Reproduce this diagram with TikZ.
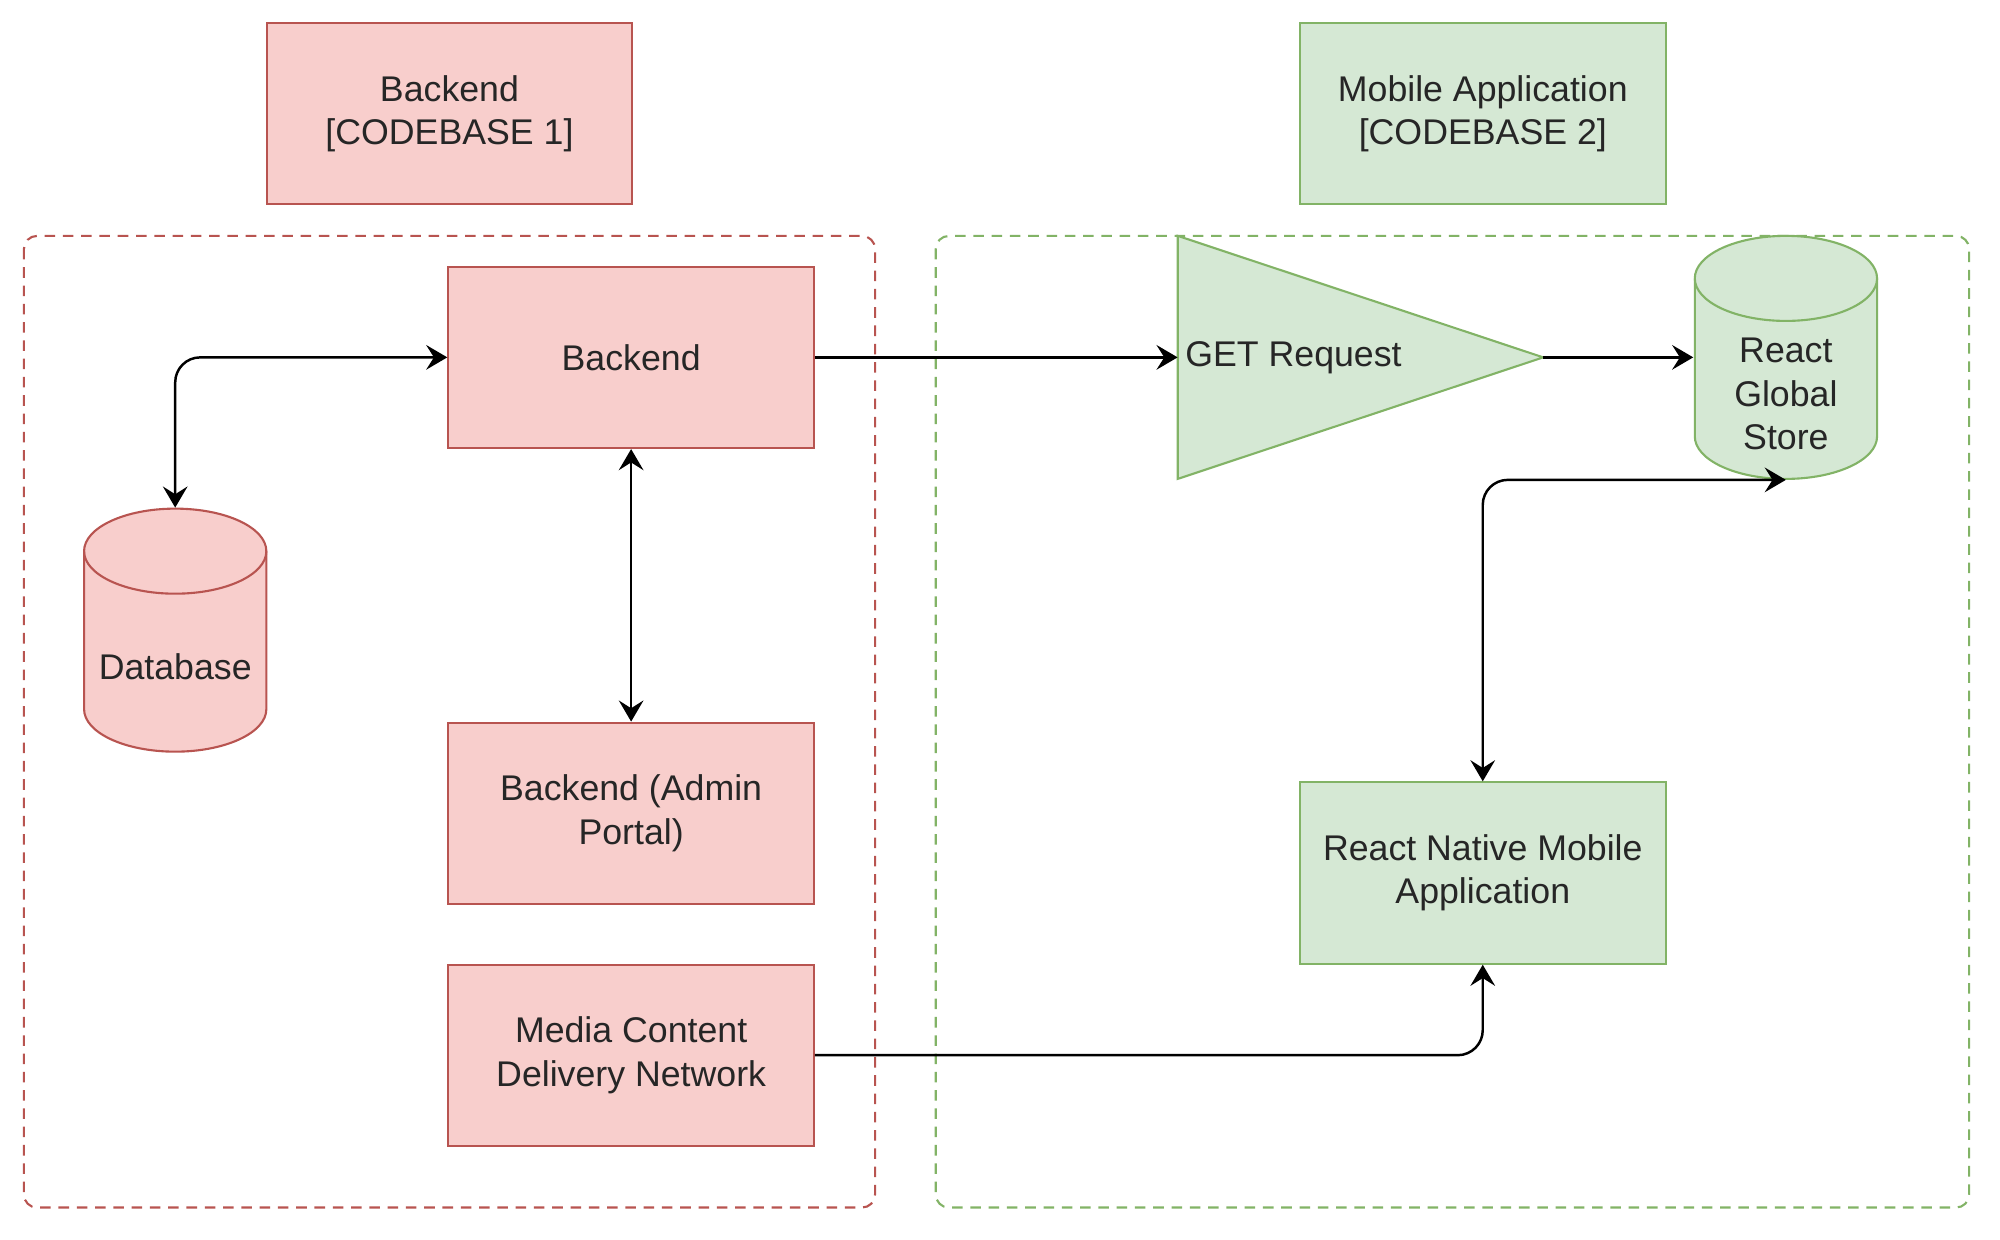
\documentclass[tikz,border=0pt]{standalone}
\usepackage{fontspec}
\setmainfont{Liberation Sans}
\usetikzlibrary{arrows.meta,shapes.geometric}
\definecolor{redfill}{HTML}{F8CECC}
\definecolor{redline}{HTML}{B85450}
\definecolor{greenfill}{HTML}{D5E8D4}
\definecolor{greenline}{HTML}{82B366}
\begin{document}
\begin{tikzpicture}[x=0.01cm,y=-0.01cm,>={Stealth[length=6pt,width=7pt,inset=2.2pt]},
	font=\fontsize{10.2}{12.4}\selectfont,
	txt/.style={text=black!85,align=center,inner sep=0pt},
	redbox/.style={txt,draw=redline,fill=redfill,line width=0.6pt,minimum width=3.67cm,minimum height=1.82cm},
	greenbox/.style={txt,draw=greenline,fill=greenfill,line width=0.6pt,minimum width=3.67cm,minimum height=1.82cm},
	cyl/.style 2 args={minimum width=1.86cm,minimum height=2.46cm,inner sep=0pt,outer sep=0pt,
		path picture={
			\coordinate (cylc) at (path picture bounding box.center);
			\draw[fill=#1,draw=#2,line width=0.6pt] ([shift={(-0.915cm,0.793cm)}]cylc) -- ++(0,-1.586cm)
				arc[start angle=180,end angle=360,x radius=0.915cm,y radius=0.427cm] -- ++(0,1.586cm)
				arc[start angle=0,end angle=180,x radius=0.915cm,y radius=0.427cm] -- cycle;
			\draw[draw=#2,line width=0.6pt] ([shift={(-0.915cm,0.793cm)}]cylc)
				arc[start angle=180,end angle=360,x radius=0.915cm,y radius=0.427cm];
		}},
	group/.style={dash pattern=on 3pt off 2.2pt,line width=0.6pt,rounded corners=0.13cm},
	link/.style={->,line width=0.7pt,rounded corners=0.25cm}]
	\useasboundingbox (0,0) rectangle (2000,1240);
	\begin{scope}[scale=0.9955,transform shape]
	\draw[group,draw=redline] (24,237) rectangle (879,1213); % codebase 1
	\draw[group,draw=greenline] (940,237) rectangle (1978,1213); % codebase 2
	\node[redbox] (cbback) at (451.5,114) {Backend\\{[CODEBASE 1]}};
	\node[greenbox] (cbmob) at (1489.5,114) {Mobile Application\\{[CODEBASE 2]}};
	\node[redbox] (backend) at (634,359) {Backend};
	\node[redbox] (admin) at (634,817) {Backend (Admin\\Portal)};
	\node[redbox] (cdn) at (634,1060) {Media Content\\Delivery Network};
	\node[cyl={redfill}{redline}] (db) at (176,633) {};
	\node[txt] (dbtxt) at ([yshift=-0.37cm]db.center) {Database};
	\node[isosceles triangle,isosceles triangle stretches,draw=greenline,fill=greenfill,line width=0.6pt,
		inner sep=0pt,outer sep=0pt,minimum width=2.44cm,minimum height=3.67cm,anchor=west] (get) at (1183,359) {};
	\node[txt,anchor=west] (gettxt) at ([xshift=0.07cm]get.west) {GET Request};
	\node[cyl={greenfill}{greenline}] (store) at (1794,359) {};
	\node[txt] (storetxt) at ([yshift=-0.37cm]store.center) {React\\Global\\Store};
	\node[greenbox] (rn) at (1489.5,877) {React Native Mobile\\Application};
	\draw[link,<->] (db.north) |- (backend.west);
	\draw[link,<->] (backend.south) -- (admin.north);
	\draw[link] (backend.east) -- (get.west);
	\draw[link] (get.east) -- (store.west);
	\draw[link,<->] (rn.north) |- (store.south);
	\draw[link] (cdn.east) -| (rn.south);
	\end{scope}
\end{tikzpicture}
\end{document}
